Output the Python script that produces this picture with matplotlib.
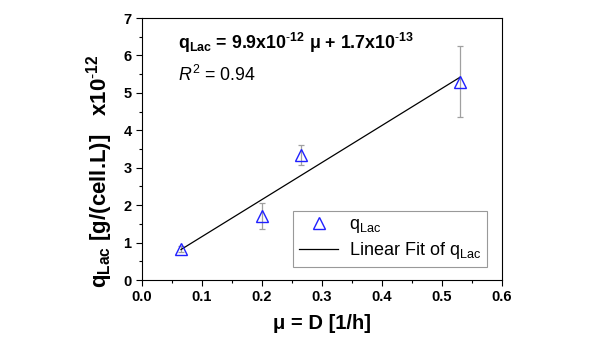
import matplotlib
matplotlib.use("Agg")
import matplotlib.pyplot as plt
import numpy as np
from matplotlib.ticker import MultipleLocator

plt.rcParams['font.family'] = ['Liberation Sans', 'DejaVu Sans']
plt.rcParams['mathtext.fontset'] = 'custom'
plt.rcParams['mathtext.rm'] = 'Liberation Sans'
plt.rcParams['mathtext.it'] = 'Liberation Sans:italic'
plt.rcParams['mathtext.bf'] = 'Liberation Sans:bold'

mu = [0.065, 0.2, 0.265, 0.53]
q_lac = [0.83, 1.72, 3.33, 5.30]
q_err = [0.08, 0.35, 0.27, 0.95]
slope = 9.9
intercept = 0.17
x_ticks = [0.0, 0.1, 0.2, 0.3, 0.4, 0.5, 0.6]
x_tick_labels = ['0.0', '0.1', '0.2', '0.3', '0.4', '0.5', '0.6']
y_ticks = [0, 1, 2, 3, 4, 5, 6, 7]
y_tick_labels = ['0', '1', '2', '3', '4', '5', '6', '7']

fig = plt.figure(figsize=(6, 3.42), dpi=100)
ax = fig.add_axes([142/600, 1-280/342, 360/600, 262/342])

ax.errorbar(mu, q_lac, yerr=q_err, fmt='none', ecolor='#a0a0a0', elinewidth=0.9,
            capsize=2.5, capthick=0.9, zorder=2)
xf = np.array([mu[0], mu[-1]])
ax.plot(xf, slope * xf + intercept, color='black', lw=0.9, zorder=3,
        label=r'Linear Fit of q$_{\mathregular{Lac}}$')
ax.plot(mu, q_lac, linestyle='none', marker='^', markersize=8.5, markerfacecolor='none',
        markeredgecolor='#2020ff', markeredgewidth=1.0, zorder=4,
        label=r'q$_{\mathregular{Lac}}$')

ax.set_xlim(0, 0.6)
ax.set_ylim(0, 7)
ax.set_xticks(x_ticks, x_tick_labels, fontweight='bold')
ax.set_yticks(y_ticks, y_tick_labels, fontweight='bold')
ax.xaxis.set_minor_locator(MultipleLocator(0.05))
ax.yaxis.set_minor_locator(MultipleLocator(0.5))
ax.tick_params(which='both', direction='out', top=False, right=False)
ax.tick_params(which='major', length=4, width=0.8, labelsize=10.5)
ax.tick_params(which='minor', length=2.5, width=0.8)

ax.set_xlabel(r'μ = D [1/h]', fontsize=14.5, fontweight='bold', labelpad=7)
ax.set_ylabel(r'q$_{\mathbf{Lac}}$ [g/(cell.L)]   x10$^{\mathbf{\text{-}12}}$', fontsize=16,
              fontweight='bold')
ax.yaxis.set_label_coords(-0.075, 0.414)

ax.text(0.06, 6.33, r'q$_{\mathbf{Lac}}$ = 9.9x10$^{\mathbf{\text{-}12}}$ μ + 1.7x10$^{\mathbf{\text{-}13}}$',
        fontsize=12.8, fontweight='bold', va='center')
ax.text(0.06, 5.48, r'$R^2$ = 0.94', fontsize=12.8, va='center')

handles, labels = ax.get_legend_handles_labels()
leg = ax.legend(handles[::-1], labels[::-1], loc='lower right', bbox_to_anchor=(0.958, 0.05),
                borderaxespad=0, fontsize=13, frameon=True, fancybox=False, edgecolor='#808080',
                handlelength=2.2, borderpad=0.3, labelspacing=0.3, handletextpad=0.6)
leg.get_frame().set_linewidth(0.8)

fig.savefig('out.png', dpi=100)
